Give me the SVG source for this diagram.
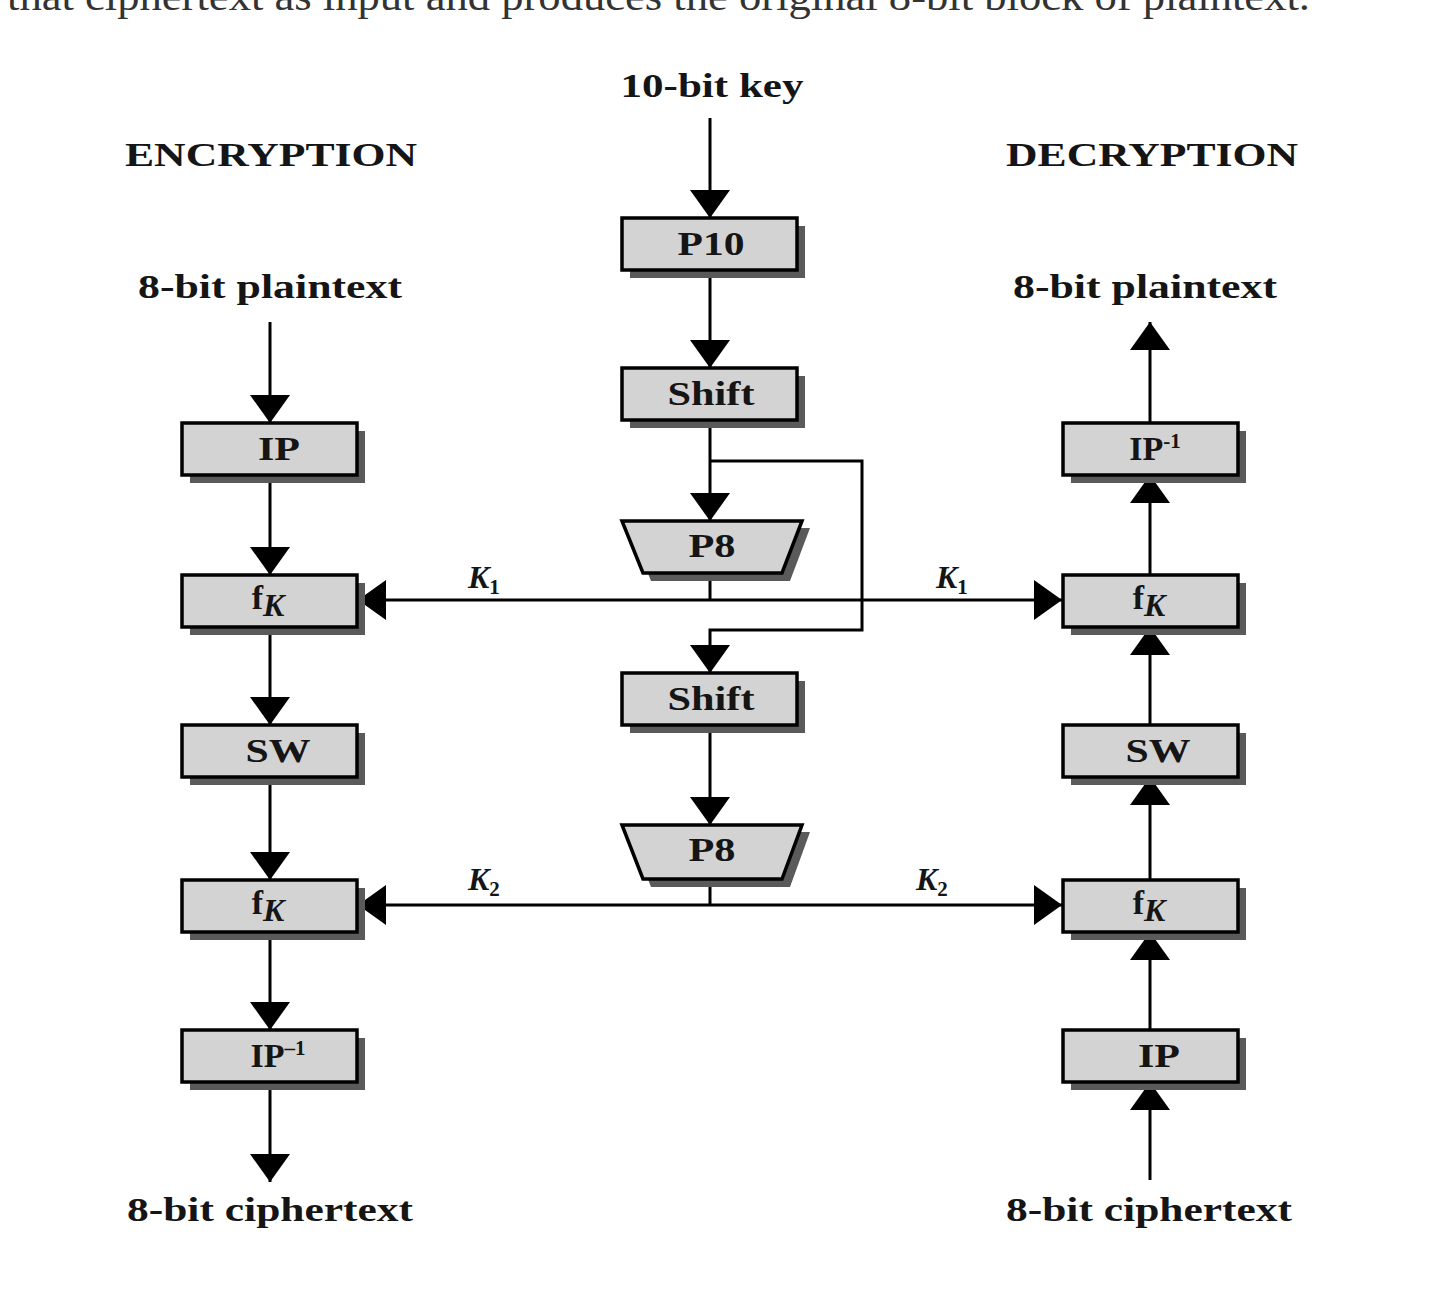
<svg xmlns="http://www.w3.org/2000/svg" width="1430" height="1292" viewBox="0 0 1430 1292">
<style>
.bx{fill:#d3d3d3;stroke:#000;stroke-width:3.5}
.sh{fill:#5a5a5a}
.t{font-family:"Liberation Serif","Times New Roman",serif;font-weight:bold;fill:#151515}
.lb{font-size:34px;text-anchor:middle}
.hd{font-size:33px;text-anchor:middle}
.k{font-family:"Liberation Serif","Times New Roman",serif;font-style:italic;font-weight:bold;font-size:32px;fill:#151515}
.sub{font-style:normal;font-size:21px}
.ln{fill:none;stroke:#000;stroke-width:3}
</style>
<defs>
<marker id="ah" viewBox="0 0 28 40" refX="28" refY="20" markerWidth="28" markerHeight="40" markerUnits="userSpaceOnUse" orient="auto">
<path d="M0,0 L28,20 L0,40 Z" fill="#000"/>
</marker>
</defs>
<rect width="1430" height="1292" fill="#fff"/>
<text x="7" y="10" font-family="Liberation Serif, serif" font-size="40" fill="#333" textLength="1303" lengthAdjust="spacingAndGlyphs">that ciphertext as input and produces the original 8-bit block of plaintext.</text>

<g id="labels">
<text class="t hd" x="712" y="97" textLength="183" lengthAdjust="spacingAndGlyphs">10-bit key</text>
<text class="t hd" x="271" y="166" textLength="292" lengthAdjust="spacingAndGlyphs">ENCRYPTION</text>
<text class="t hd" x="1152" y="166" textLength="292" lengthAdjust="spacingAndGlyphs">DECRYPTION</text>
<text class="t hd" x="270" y="298" textLength="264" lengthAdjust="spacingAndGlyphs">8-bit plaintext</text>
<text class="t hd" x="1145" y="298" textLength="264" lengthAdjust="spacingAndGlyphs">8-bit plaintext</text>
<text class="t hd" x="270" y="1221" textLength="286" lengthAdjust="spacingAndGlyphs">8-bit ciphertext</text>
<text class="t hd" x="1149" y="1221" textLength="286" lengthAdjust="spacingAndGlyphs">8-bit ciphertext</text>
<text class="k" x="468" y="588">K<tspan class="sub" dy="6">1</tspan></text>
<text class="k" x="936" y="588">K<tspan class="sub" dy="6">1</tspan></text>
<text class="k" x="468" y="890">K<tspan class="sub" dy="6">2</tspan></text>
<text class="k" x="916" y="890">K<tspan class="sub" dy="6">2</tspan></text>
</g>

<g id="connectors">
<line class="ln" x1="710" y1="118" x2="710" y2="218" marker-end="url(#ah)"/>
<line class="ln" x1="710" y1="270" x2="710" y2="368" marker-end="url(#ah)"/>
<line class="ln" x1="710" y1="420" x2="710" y2="521" marker-end="url(#ah)"/>
<polyline class="ln" points="710,461 862,461 862,630 710,630 710,673" marker-end="url(#ah)"/>
<line class="ln" x1="710" y1="725" x2="710" y2="825" marker-end="url(#ah)"/>
<line class="ln" x1="710" y1="573" x2="710" y2="600"/>
<line class="ln" x1="710" y1="600" x2="358" y2="600" marker-end="url(#ah)"/>
<line class="ln" x1="710" y1="600" x2="1062" y2="600" marker-end="url(#ah)"/>
<line class="ln" x1="710" y1="879" x2="710" y2="905"/>
<line class="ln" x1="710" y1="905" x2="358" y2="905" marker-end="url(#ah)"/>
<line class="ln" x1="710" y1="905" x2="1062" y2="905" marker-end="url(#ah)"/>
<line class="ln" x1="270" y1="322" x2="270" y2="423" marker-end="url(#ah)"/>
<line class="ln" x1="270" y1="475" x2="270" y2="575" marker-end="url(#ah)"/>
<line class="ln" x1="270" y1="627" x2="270" y2="725" marker-end="url(#ah)"/>
<line class="ln" x1="270" y1="777" x2="270" y2="880" marker-end="url(#ah)"/>
<line class="ln" x1="270" y1="932" x2="270" y2="1030" marker-end="url(#ah)"/>
<line class="ln" x1="270" y1="1082" x2="270" y2="1182" marker-end="url(#ah)"/>
<line class="ln" x1="1150" y1="1180" x2="1150" y2="1082" marker-end="url(#ah)"/>
<line class="ln" x1="1150" y1="1030" x2="1150" y2="932" marker-end="url(#ah)"/>
<line class="ln" x1="1150" y1="880" x2="1150" y2="777" marker-end="url(#ah)"/>
<line class="ln" x1="1150" y1="725" x2="1150" y2="627" marker-end="url(#ah)"/>
<line class="ln" x1="1150" y1="575" x2="1150" y2="475" marker-end="url(#ah)"/>
<line class="ln" x1="1150" y1="423" x2="1150" y2="322" marker-end="url(#ah)"/>
</g>

<g id="p10"><rect class="sh" x="630" y="226" width="175" height="52"/><rect class="bx" x="622" y="218" width="175" height="52"/><text class="t lb" x="711" y="255" textLength="67" lengthAdjust="spacingAndGlyphs">P10</text></g>
<g id="shift1"><rect class="sh" x="630" y="376" width="175" height="52"/><rect class="bx" x="622" y="368" width="175" height="52"/><text class="t lb" x="711" y="405" textLength="87" lengthAdjust="spacingAndGlyphs">Shift</text></g>
<g id="p8a"><polygon class="sh" points="630,528 810,528 790,581 651,581"/><polygon class="bx" points="622,521 802,521 782,573 643,573"/><text class="t lb" x="712" y="557" textLength="47" lengthAdjust="spacingAndGlyphs">P8</text></g>
<g id="shift2"><rect class="sh" x="630" y="681" width="175" height="52"/><rect class="bx" x="622" y="673" width="175" height="52"/><text class="t lb" x="711" y="710" textLength="87" lengthAdjust="spacingAndGlyphs">Shift</text></g>
<g id="p8b"><polygon class="sh" points="630,832 810,832 790,887 651,887"/><polygon class="bx" points="622,825 802,825 782,879 643,879"/><text class="t lb" x="712" y="861" textLength="47" lengthAdjust="spacingAndGlyphs">P8</text></g>

<g id="enc-ip"><rect class="sh" x="190" y="431" width="175" height="52"/><rect class="bx" x="182" y="423" width="175" height="52"/><text class="t lb" x="279" y="460" textLength="42" lengthAdjust="spacingAndGlyphs">IP</text></g>
<g id="enc-fk1"><rect class="sh" x="190" y="583" width="175" height="52"/><rect class="bx" x="182" y="575" width="175" height="52"/><text class="t lb" x="268" y="609">f<tspan class="k" font-size="23" dy="7">K</tspan></text></g>
<g id="enc-sw"><rect class="sh" x="190" y="733" width="175" height="52"/><rect class="bx" x="182" y="725" width="175" height="52"/><text class="t lb" x="278" y="762" textLength="65" lengthAdjust="spacingAndGlyphs">SW</text></g>
<g id="enc-fk2"><rect class="sh" x="190" y="888" width="175" height="52"/><rect class="bx" x="182" y="880" width="175" height="52"/><text class="t lb" x="268" y="914">f<tspan class="k" font-size="23" dy="7">K</tspan></text></g>
<g id="enc-ipinv"><rect class="sh" x="190" y="1038" width="175" height="52"/><rect class="bx" x="182" y="1030" width="175" height="52"/><text class="t lb" x="278" y="1067">IP<tspan font-size="21" dy="-12">–1</tspan></text></g>

<g id="dec-ipinv"><rect class="sh" x="1071" y="431" width="175" height="52"/><rect class="bx" x="1063" y="423" width="175" height="52"/><text class="t lb" x="1155" y="460">IP<tspan font-size="21" dy="-12">-1</tspan></text></g>
<g id="dec-fk1"><rect class="sh" x="1071" y="583" width="175" height="52"/><rect class="bx" x="1063" y="575" width="175" height="52"/><text class="t lb" x="1149" y="609">f<tspan class="k" font-size="23" dy="7">K</tspan></text></g>
<g id="dec-sw"><rect class="sh" x="1071" y="733" width="175" height="52"/><rect class="bx" x="1063" y="725" width="175" height="52"/><text class="t lb" x="1158" y="762" textLength="65" lengthAdjust="spacingAndGlyphs">SW</text></g>
<g id="dec-fk2"><rect class="sh" x="1071" y="888" width="175" height="52"/><rect class="bx" x="1063" y="880" width="175" height="52"/><text class="t lb" x="1149" y="914">f<tspan class="k" font-size="23" dy="7">K</tspan></text></g>
<g id="dec-ip"><rect class="sh" x="1071" y="1038" width="175" height="52"/><rect class="bx" x="1063" y="1030" width="175" height="52"/><text class="t lb" x="1159" y="1067" textLength="42" lengthAdjust="spacingAndGlyphs">IP</text></g>
</svg>
